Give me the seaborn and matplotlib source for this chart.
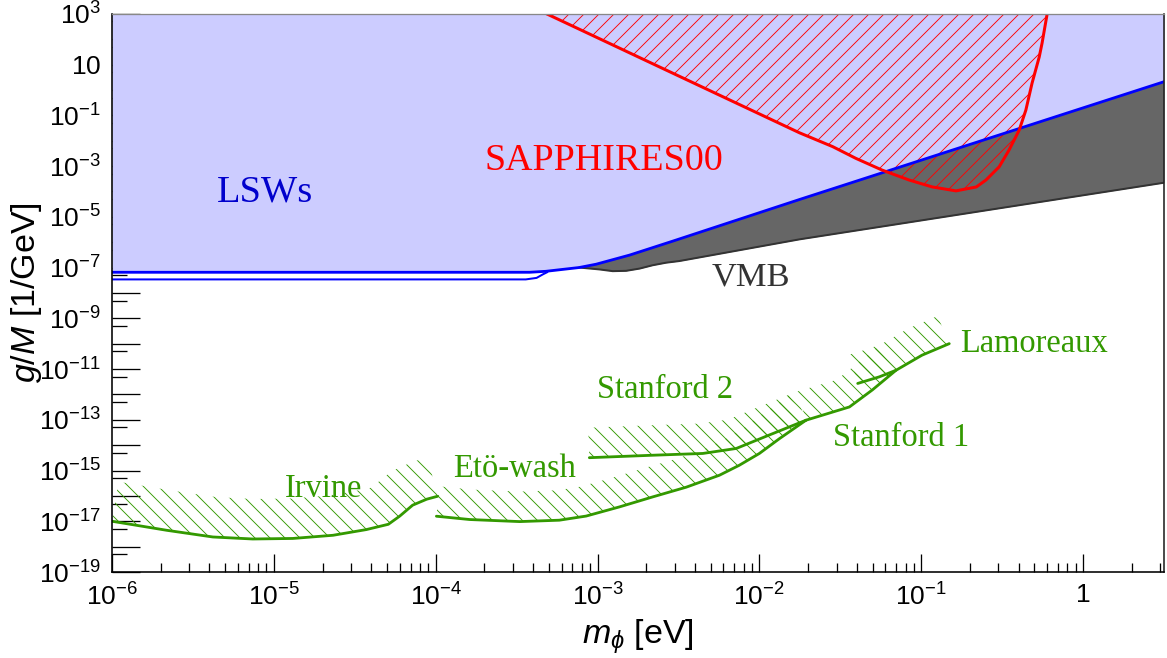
import numpy as np
import pandas as pd
import matplotlib
matplotlib.use("Agg")
import matplotlib.pyplot as plt
import seaborn as sns
from matplotlib import ticker
from matplotlib.patches import Polygon
from matplotlib.collections import LineCollection
from matplotlib.transforms import IdentityTransform

# ---------------- data ----------------
lsw_upper_m = [1e-6, 3.8e-4, 4.8e-4, 7.7e-4, 9.8e-4, 1.58e-3, 2.92e-3, 1.77e-2, 3.16]
lsw_upper_g = [6.5e-8, 6.5e-8, 7.1e-8, 1.0e-7, 1.35e-7, 3.1e-7, 1.1e-6, 4.8e-5, 2.1]

lsw_lower_m = [1e-6, 3.6e-4, 4.2e-4, 4.6e-4, 4.9e-4]
lsw_lower_g = [3.4e-8, 3.4e-8, 3.9e-8, 5.4e-8, 6.6e-8]

vmb_m = [7.7e-4, 1.03e-3, 1.24e-3, 1.5e-3, 1.82e-3, 2.19e-3, 2.65e-3, 3.2e-3, 1.77e-2, 3.16]
vmb_g = [1.0e-7, 8.4e-8, 7.2e-8, 7.4e-8, 9.1e-8, 1.23e-7, 1.55e-7, 1.8e-7, 1.29e-6, 2.2e-4]

sapph_m = [4.84e-4, 1.77e-2, 2.84e-2, 3.95e-2, 5.74e-2, 8.43e-2, 0.117, 0.164, 0.219,
           0.251, 0.303, 0.349, 0.403, 0.443, 0.484, 0.536, 0.558, 0.60]
sapph_g = [1e3, 2.04e-2, 5.8e-3, 2.0e-3, 6.9e-4, 2.8e-4, 1.5e-4, 1.05e-4, 1.5e-4,
           2.8e-4, 9.3e-4, 4.3e-3, 2.6e-2, 0.16, 1.86, 20, 70, 1e3]

irvine_m = [1.0e-6, 2.18e-6, 4.2e-6, 7.4e-6, 1.31e-5, 2.32e-5, 3.73e-5, 5.1e-5, 6.0e-5, 7.2e-5, 8.8e-5, 1.03e-4]
irvine_g = [1.0e-17, 4.4e-18, 2.4e-18, 2.0e-18, 2.1e-18, 2.8e-18, 4.7e-18, 7.6e-18, 1.6e-17, 4.3e-17, 7.4e-17, 9.7e-17]

etwash_m = [1.01e-4, 1.62e-4, 3.3e-4, 5.8e-4, 8.5e-4, 1.37e-3, 2.19e-3, 3.53e-3, 5.66e-3, 7.5e-3, 1.0e-2, 1.33e-2, 1.69e-2, 1.94e-2]
etwash_g = [1.58e-17, 1.17e-17, 9.7e-18, 1.1e-17, 1.6e-17, 3.7e-17, 9.1e-17, 2.2e-16, 6.5e-16, 1.6e-15, 4.7e-15, 1.8e-14, 5.2e-14, 9.6e-14]

stanford2_m = [8.9e-4, 2.19e-3, 4.47e-3, 7.2e-3, 1.15e-2, 1.94e-2]
stanford2_g = [3.2e-15, 4.0e-15, 4.7e-15, 7.4e-15, 2.5e-14, 9.6e-14]

stanford1_m = [1.94e-2, 3.6e-2, 4.99e-2, 6.98e-2]
stanford1_g = [9.6e-14, 3.2e-13, 1.5e-12, 8.9e-12]

lamoreaux_m = [4.05e-2, 5.5e-2, 6.98e-2, 0.101, 0.149]
lamoreaux_g = [2.7e-12, 4.9e-12, 8.9e-12, 3.5e-11, 1.0e-10]

labels = ["LSWs", "SAPPHIRES00", "VMB", "Irvine", "Etö-wash", "Stanford 2", "Stanford 1", "Lamoreaux"]
label_m = [8.8e-6, 1.1e-3, 8.8e-3, 2.04e-5, 3.08e-4, 2.6e-3, 7.53e-2, 0.499]
label_g = [3.9e-5, 6.9e-4, 2.0e-8, 9.1e-17, 5.6e-16, 6.9e-13, 9.3e-15, 4.8e-11]

x_ticks = [1e-6, 1e-5, 1e-4, 1e-3, 1e-2, 1e-1, 1]
y_ticks = [10.0 ** k for k in range(-19, 4)]

# ---------------- style ----------------
DPI = 120
P = 72.0 / DPI          # pixels -> points
sns.set_theme(style="ticks")
plt.rcParams.update({
    "font.family": ["Liberation Sans", "DejaVu Sans"],
    "mathtext.fontset": "custom",
    "mathtext.rm": "Liberation Sans",
    "mathtext.it": "Liberation Sans:italic",
    "mathtext.bf": "Liberation Sans:bold",
    "text.color": "black",
    "axes.labelcolor": "black",
    "xtick.color": "black",
    "ytick.color": "black",
})

BLUE = "#0000ff"
LIGHT = "#ccccff"
RED = "#ff0000"
GREEN = "#339900"
GRAY = "#666666"
DARK = "#333333"

fig = plt.figure(figsize=(1167 / DPI, 658 / DPI), dpi=DPI)
fig.patch.set_facecolor("white")
ax = fig.add_axes([112 / 1167, 1 - 572 / 658, 1052 / 1167, 558.2 / 658])
ax.set_facecolor("white")
ax.set_xscale("log")
ax.set_yscale("log")
XMIN, XMAX = 1e-6, 10 ** 0.5
YMIN, YMAX = 1e-19, 1e3
ax.set_xlim(XMIN, XMAX)
ax.set_ylim(YMIN, YMAX)


def hatch_lines(poly, spacing_px, color, slope, zorder):
    """Thin parallel lines (slope +1 '/' or -1 '\\') clipped to a display-space polygon."""
    clip = Polygon(poly, closed=True, transform=IdentityTransform(),
                   facecolor="none", edgecolor="none")
    x0, y0 = poly.min(axis=0) - 2
    x1, y1 = poly.max(axis=0) + 2
    if slope < 0:
        cs = np.arange(np.floor((x0 + y0) / spacing_px) * spacing_px, x1 + y1 + spacing_px, spacing_px)
        segs = [[(x0, c - x0), (x1, c - x1)] for c in cs]
    else:
        cs = np.arange(np.floor((y0 - x1) / spacing_px) * spacing_px, y1 - x0 + spacing_px, spacing_px)
        segs = [[(x0, x0 + c), (x1, x1 + c)] for c in cs]
    lc = LineCollection(segs, colors=color, linewidths=0.9 * P,
                        transform=IdentityTransform(), zorder=zorder)
    ax.add_collection(lc, autolim=False)
    lc.set_clip_path(clip)


# ---------------- filled regions ----------------
ax.fill_between(vmb_m, vmb_g, YMAX, color=GRAY, lw=0, zorder=1)
ax.fill_between(lsw_upper_m, lsw_upper_g, YMAX, color=LIGHT, lw=0, zorder=2)
sapph_disp = ax.transData.transform(np.column_stack([sapph_m, sapph_g]))
hatch_lines(sapph_disp, 15.0, RED, +1, 3)


def hatch_band(mx, gy, width_px, color, spacing_px=15.0, zorder=4):
    """Hatched band of constant pixel width on the upper side of a limit curve."""
    pts = ax.transData.transform(np.column_stack([mx, gy]))
    d = np.gradient(pts, axis=0)
    n = np.column_stack([-d[:, 1], d[:, 0]])
    n /= np.linalg.norm(n, axis=1)[:, None]
    off = pts + n * width_px
    poly = np.vstack([pts, off[::-1]])
    hatch_lines(poly, spacing_px, color, -1, zorder)


hatch_band(irvine_m, irvine_g, 40, GREEN)
hatch_band(etwash_m, etwash_g, 30, GREEN)
hatch_band(stanford2_m, stanford2_g, 30, GREEN)
hatch_band(stanford1_m, stanford1_g, 30, GREEN)
hatch_band(lamoreaux_m, lamoreaux_g, 30, GREEN)

# ---------------- curves ----------------
def curve(mx, gy, color, lw_px, z):
    df = pd.DataFrame({"m": mx, "g": gy})
    sns.lineplot(data=df, x="m", y="g", ax=ax, color=color, lw=lw_px * P, sort=False,
                 estimator=None, zorder=z, legend=False)

curve(vmb_m, vmb_g, DARK, 2.0, 5)
curve(lsw_lower_m, lsw_lower_g, BLUE, 2.0, 6)
curve(lsw_upper_m, lsw_upper_g, BLUE, 2.8, 6)
curve(sapph_m, sapph_g, RED, 3.0, 7)
for mx, gy in [(irvine_m, irvine_g), (etwash_m, etwash_g), (stanford2_m, stanford2_g),
               (stanford1_m, stanford1_g), (lamoreaux_m, lamoreaux_g)]:
    curve(mx, gy, GREEN, 2.8, 7)

# ---------------- labels ----------------
label_colors = ["#0000cc", RED, DARK, GREEN, GREEN, GREEN, GREEN, GREEN]
label_px = [38.4, 38.0, 34.5, 32.5, 32.5, 32.5, 32.5, 32.5]
for t, mx, gy, c, s in zip(labels, label_m, label_g, label_colors, label_px):
    ax.text(mx, gy, t, color=c, fontsize=s * P, family=["Liberation Serif", "DejaVu Serif"],
            ha="center", va="baseline", zorder=8)

# ---------------- axes ----------------
def fmt_x(v, pos):
    e = int(round(np.log10(v)))
    if e == 0:
        return r"$\mathregular{1}$"
    if e == 1:
        return r"$\mathregular{10}$"
    return r"$\mathregular{10^{%d}}$" % e


def fmt_y(v, pos):
    e = int(round(np.log10(v)))
    if e % 2 == 0:
        return ""
    return fmt_x(v, pos)


ax.xaxis.set_major_locator(ticker.FixedLocator(x_ticks))
ax.xaxis.set_minor_locator(ticker.LogLocator(base=10, subs=np.arange(2, 10), numticks=50))
ax.xaxis.set_major_formatter(ticker.FuncFormatter(fmt_x))
ax.xaxis.set_minor_formatter(ticker.NullFormatter())
ax.yaxis.set_major_locator(ticker.FixedLocator(y_ticks))
ax.yaxis.set_minor_locator(ticker.LogLocator(base=10, subs=[5.0], numticks=50))
ax.yaxis.set_major_formatter(ticker.FuncFormatter(fmt_y))
ax.yaxis.set_minor_formatter(ticker.NullFormatter())

TW = 1.3 * P
ax.tick_params(axis="x", which="major", direction="in", length=18 * P, width=TW,
               labelsize=26.5 * P, pad=11 * P, top=False, colors="black")
ax.tick_params(axis="x", which="minor", direction="in", length=9 * P, width=TW, top=False)
ax.tick_params(axis="y", which="major", direction="in", length=28 * P, width=TW,
               labelsize=26.5 * P, pad=11 * P, right=False, colors="black")
ax.tick_params(axis="y", which="minor", direction="in", length=14.7 * P, width=TW, right=False)

for s in ["left", "bottom"]:
    ax.spines[s].set_color("black")
    ax.spines[s].set_linewidth(1.6 * P)
ax.spines["top"].set_color("#888888")
ax.spines["top"].set_linewidth(1.3 * P)
ax.spines["right"].set_color("#222222")
ax.spines["right"].set_linewidth(1.6 * P)
for s in ax.spines.values():
    s.set_zorder(10)

ax.set_xlabel(r"$m_{\phi}$ [eV]", fontsize=34 * P, color="black")
ax.set_ylabel(r"$g/M$ [1/GeV]", fontsize=34 * P, color="black")
ax.xaxis.set_label_coords(0.5, (572 - 617) / 558.2)
ax.yaxis.set_label_coords((44 - 112) / 1052, 0.5)

fig.savefig("out.png", dpi=DPI, facecolor="white")
